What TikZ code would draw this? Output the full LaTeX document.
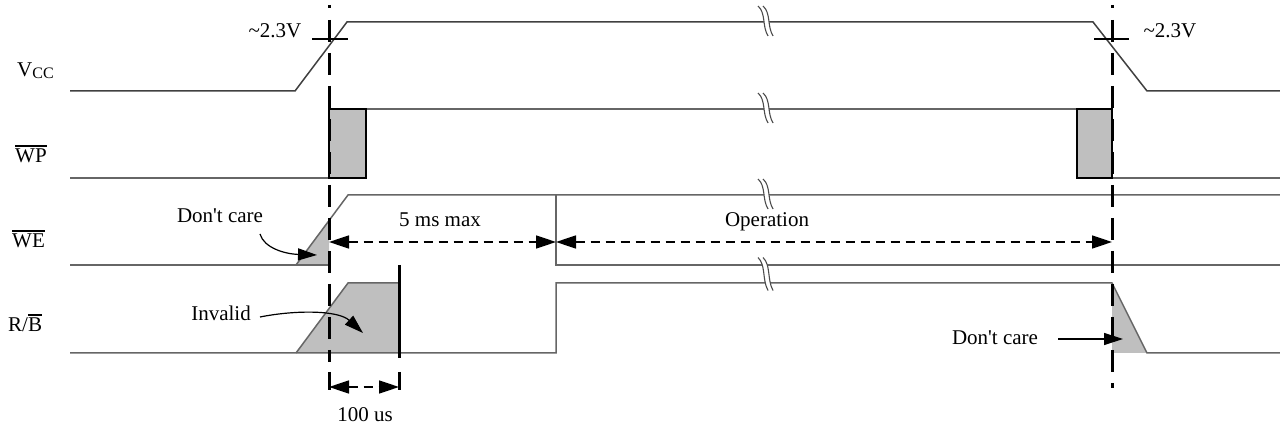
\documentclass[tikz,border=0pt]{standalone}
\usepackage{fontspec}
\setmainfont{Liberation Serif}
\usetikzlibrary{arrows.meta}
\newcommand\sigbar[1]{\leavevmode\vbox{\hrule height 1.3pt\kern 2.5pt\hbox{#1}}}
\begin{document}
\begin{tikzpicture}[x=1pt,y=-1pt,
  sig/.style={draw=black!60, line width=1.5pt},
  shadefill/.style={fill=black!25},
  wpbox/.style={draw=black, line width=1.4pt, fill=black!25},
  guide/.style={black, line width=3pt, dash pattern=on 22pt off 11pt},
  guidesolid/.style={black, line width=3pt},
  crosstick/.style={black, line width=1.6pt},
  dimarrow/.style={black, line width=1.7pt, dash pattern=on 9pt off 6pt,
    {Triangle[length=20pt,width=13pt]}-{Triangle[length=20pt,width=13pt]}},
  callout/.style={black, line width=1.2pt, -{Triangle[length=19pt,width=12pt]}},
  lbl/.style={font=\fontsize{21}{24}\selectfont, inner sep=0pt, anchor=base},
  sname/.style={font=\fontsize{21}{24}\selectfont, inner sep=0pt, anchor=base west},
  brk/.pic={
    \fill[white] (-7,-15) .. controls (1,-8) and (-3,5) .. (3,15) -- (8,15) .. controls (2,5) and (6,-8) .. (-2,-15) -- cycle;
    \draw[black!70, line width=1.1pt] (-7,-15) .. controls (1,-8) and (-3,5) .. (3,15);
    \draw[black!70, line width=1.1pt] (-2,-15) .. controls (6,-8) and (2,5) .. (8,15);
  },
]
\useasboundingbox (0,0) rectangle (1280,427);

% ---------- signal names ----------
\node[sname] (vcc) at (17,77) {V\raisebox{-1.5pt}{\fontsize{16}{16}\selectfont CC}};
\node[sname] (wp) at (15,163) {\sigbar{WP}};
\node[sname] (we) at (12,248) {\sigbar{WE}};
\node[sname] (rb) at (8,332) {R/\sigbar{B}};

% ---------- shaded regions ----------
\fill[shadefill] (296,265) -- (329,220.6) -- (329,265) -- cycle;
\fill[shadefill] (296,353) -- (348,283) -- (399,283) -- (399,353) -- cycle;
\fill[shadefill] (1112,285) -- (1147,353) -- (1112,353) -- cycle;

% ---------- VCC ----------
\draw[sig, draw=black!75] (70,91) -- (295,91) -- (347,22) -- (1093,22) -- (1147,91) -- (1280,91);

% ---------- WP ----------
\draw[sig] (70,178) -- (329,178);
\draw[sig] (366,109) -- (1077,109);
\draw[sig] (1112,178) -- (1280,178);
\draw[wpbox] (329,109) rectangle (366,178);
\draw[wpbox] (1077,109) rectangle (1112,178);

% ---------- WE ----------
\draw[sig] (70,265) -- (329,265);
\draw[sig] (296,265) -- (348,195) -- (1280,195);
\draw[sig] (556,195) -- (556,265) -- (1280,265);

% ---------- R/B ----------
\draw[sig] (70,353) -- (556,353) -- (556,283) -- (1112,283) -- (1147,353) -- (1280,353);
\draw[sig] (296,353) -- (348,283) -- (399,283);

% ---------- break marks ----------
\pic at (765,21) {brk};
\pic at (765,108) {brk};
\pic at (765,194) {brk};
\pic[yscale=1.1] at (765,274) {brk};

% ---------- guide lines ----------
\draw[guidesolid] (329,5) -- (329,8);
\draw[guide] (329,20) -- (329,362);
\draw[guidesolid] (329,372) -- (329,390);
\draw[guidesolid] (1112,5) -- (1112,8);
\draw[guide] (1112,20) -- (1112,388);
\draw[guidesolid] (399,265) -- (399,358);
\draw[guidesolid] (399,372) -- (399,390);

\draw[crosstick] (312,39) -- (348,39);
\draw[crosstick] (1094,39) -- (1129,39);

% ---------- labels ----------
\node[lbl] (v23a) at (275,38) {\textasciitilde2.3V};
\node[lbl] (v23b) at (1170,38) {\textasciitilde2.3V};
\node[lbl] (t5ms) at (440,227) {5 ms max};
\node[lbl] (oper) at (767,227) {Operation};
\node[lbl] (dcl) at (220,223) {Don\textquotesingle t care};
\node[lbl] (inv) at (221,321) {Invalid};
\node[lbl] (dcr) at (995,345) {Don\textquotesingle t care};
\node[lbl] (t100) at (365,422) {100 us};

% ---------- dimension arrows ----------
\coordinate (d1a) at (329,242);
\coordinate (d1b) at (556,242);
\coordinate (d2b) at (1112,242);
\coordinate (d3a) at (329,387);
\coordinate (d3b) at (399,387);
\draw[dimarrow] (d1a) -- (d1b);
\draw[dimarrow] (d1b) -- (d2b);
\draw[dimarrow] (d3a) -- (d3b);

% ---------- callouts ----------
\coordinate (dclS) at (260,234);
\coordinate (dclE) at (317,255);
\draw[callout] (dclS) .. controls (264,248) and (285,254) .. (dclE);
\coordinate (invS) at (260,317);
\coordinate (invE) at (363,333);
\draw[callout] (invS) .. controls (295,310) and (338,310) .. (invE);
\coordinate (dcrS) at (1058,339);
\coordinate (dcrE) at (1123,339);
\draw[callout] (dcrS) -- (dcrE);
\end{tikzpicture}
\end{document}
